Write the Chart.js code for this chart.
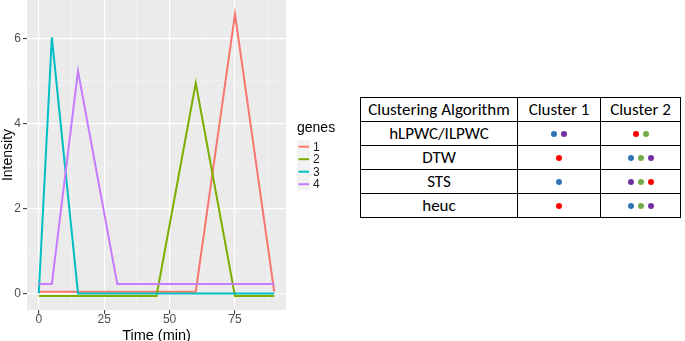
<!DOCTYPE html>
<html><head><meta charset="utf-8">
<script src="https://cdn.jsdelivr.net/npm/chart.js@4"></script>
<style>
html,body{margin:0;padding:0;background:#fff;width:685px;height:341px;overflow:hidden;position:relative;}
#c{position:absolute;left:0;top:0;}
table{position:absolute;left:360px;top:97px;border-collapse:collapse;table-layout:fixed;font-family:Carlito,Lato,"Open Sans",sans-serif;font-size:17px;color:#000;}
td,th{border:1px solid #000;padding:0;text-align:center;height:23px;font-weight:normal;line-height:18px;white-space:nowrap;}
.dot{display:inline-block;width:6px;height:6px;border-radius:50%;margin:0 2px;vertical-align:middle;}
</style></head><body>
<canvas id="c" width="360" height="345"></canvas>
<table id="t"></table>
<script>
// ---- chart data ----
const times = [0, 5, 15, 30, 45, 60, 75, 90];
const gene1 = [0.05, 0.05, 0.05, 0.05, 0.05, 0.05, 6.57, 0.05];
const gene2 = [-0.05, -0.05, -0.05, -0.05, -0.05, 4.95, -0.05, -0.05];
const gene3 = [0.01, 6.02, 0.01, 0.01, 0.01, 0.01, 0.01, 0.01];
const gene4 = [0.23, 0.23, 5.23, 0.23, 0.23, 0.23, 0.23, 0.23];
const geneNames = ['1', '2', '3', '4'];
const geneColors = ['#F8766D', '#7CAE00', '#00BFC4', '#C77CFF'];
const xMajor = [0, 25, 50, 75];
const xMinor = [12.5, 37.5, 62.5, 87.5];
const yMajor = [0, 2, 4, 6];
const yMinor = [1, 3, 5];

// ---- table data ----
const tableHeader = ['Clustering Algorithm', 'Cluster 1', 'Cluster 2'];
const algorithms = ['hLPWC/ILPWC', 'DTW', 'STS', 'heuc'];
const cluster1 = [['blue', 'purple'], ['red'], ['blue'], ['red']];
const cluster2 = [['red', 'green'], ['blue', 'green', 'purple'], ['purple', 'green', 'red'], ['blue', 'green', 'purple']];
const dotColors = {red: '#FF0000', green: '#70AD47', blue: '#2E75B6', purple: '#7030A0'};

// build table
const t = document.getElementById('t');
const colW = [157, 83, 80];
let html = '<colgroup>' + colW.map(w => `<col style="width:${w}px">`).join('') + '</colgroup>';
html += '<tr>' + tableHeader.map(h => `<th>${h}</th>`).join('') + '</tr>';
const dots = arr => arr.map(c => `<span class="dot" style="background:${dotColors[c]}"></span>`).join('');
algorithms.forEach((a, i) => {
  html += `<tr><td>${a}</td><td>${dots(cluster1[i])}</td><td>${dots(cluster2[i])}</td></tr>`;
});
t.innerHTML = html;

// ---- chart ----
const series = [gene1, gene2, gene3, gene4];
const datasets = series.map((s, i) => ({
  label: geneNames[i],
  data: times.map((x, j) => ({x: x, y: s[j]})),
  borderColor: geneColors[i],
  backgroundColor: geneColors[i],
  borderWidth: 2,
  pointRadius: 0,
  tension: 0,
  order: series.length - 1 - i
}));

const panelBg = {
  id: 'panelBg',
  beforeDraw(chart) {
    const {ctx, chartArea: a} = chart;
    ctx.save();
    ctx.fillStyle = '#EBEBEB';
    ctx.fillRect(a.left, a.top, a.right - a.left, a.bottom - a.top);
    ctx.restore();
  }
};

const legendPlugin = {
  id: 'ggLegend',
  afterDraw(chart) {
    const ctx = chart.ctx;
    ctx.save();
    ctx.fillStyle = '#000';
    ctx.font = '14px "Liberation Sans", Arial, sans-serif';
    ctx.textBaseline = 'middle';
    ctx.textAlign = 'left';
    ctx.fillText('genes', 297, 128);
    const y0 = 146.7, dy = 12.5;
    geneNames.forEach((n, i) => {
      const y = y0 + i * dy;
      ctx.fillStyle = '#F2F2F2';
      ctx.fillRect(297, y - dy / 2, 13, dy);
      ctx.strokeStyle = geneColors[i];
      ctx.lineWidth = 2;
      ctx.beginPath();
      ctx.moveTo(298.5, y);
      ctx.lineTo(309, y);
      ctx.stroke();
      ctx.fillStyle = '#1a1a1a';
      ctx.font = '12px "Liberation Sans", Arial, sans-serif';
      ctx.fillText(n, 313, y + 0.5);
    });
    ctx.restore();
  }
};

const isMinor = (list, v) => list.includes(v);

new Chart(document.getElementById('c'), {
  type: 'line',
  data: {datasets},
  plugins: [panelBg, legendPlugin],
  options: {
    responsive: false,
    animation: false,
    events: [],
    layout: {padding: {left: 0, right: 74, top: 0, bottom: 0}},
    plugins: {legend: {display: false}, tooltip: {enabled: false}},
    scales: {
      x: {
        type: 'linear',
        min: -4.5, max: 94.5,
        afterBuildTicks: s => { s.ticks = [...xMajor, ...xMinor].sort((a, b) => a - b).map(v => ({value: v})); },
        afterFit: s => { s.height = 35; s.paddingLeft = 0; s.paddingRight = 0; },
        border: {display: false},
        grid: {
          color: c => isMinor(xMinor, c.tick && c.tick.value) ? '#F4F4F4' : '#FFFFFF',
          lineWidth: c => isMinor(xMinor, c.tick && c.tick.value) ? 0.7 : 1.2,
          tickColor: c => isMinor(xMinor, c.tick && c.tick.value) ? 'rgba(0,0,0,0)' : '#333333',
          tickLength: 4,
          tickWidth: 1
        },
        ticks: {
          autoSkip: false, maxRotation: 0, padding: -2,
          color: '#4D4D4D',
          font: {family: '"Liberation Sans", Arial, sans-serif', size: 12},
          callback: v => xMajor.includes(v) ? String(v) : ''
        },
        title: {
          display: true, text: 'Time (min)', color: '#000',
          font: {family: '"Liberation Sans", Arial, sans-serif', size: 14.5},
          padding: 0
        }
      },
      y: {
        type: 'linear',
        min: -0.38, max: 6.9,
        afterBuildTicks: s => { s.ticks = [...yMajor, ...yMinor].sort((a, b) => a - b).map(v => ({value: v})); },
        afterFit: s => { s.width = 27; s.paddingTop = 0; s.paddingBottom = 0; },
        border: {display: false},
        grid: {
          color: c => isMinor(yMinor, c.tick && c.tick.value) ? '#F4F4F4' : '#FFFFFF',
          lineWidth: c => isMinor(yMinor, c.tick && c.tick.value) ? 0.7 : 1.2,
          tickColor: c => isMinor(yMinor, c.tick && c.tick.value) ? 'rgba(0,0,0,0)' : '#333333',
          tickLength: 4,
          tickWidth: 1
        },
        ticks: {
          autoSkip: false, padding: 2,
          color: '#4D4D4D',
          font: {family: '"Liberation Sans", Arial, sans-serif', size: 12},
          callback: v => yMajor.includes(v) ? String(v) : ''
        },
        title: {
          display: true, text: 'Intensity', color: '#000',
          font: {family: '"Liberation Sans", Arial, sans-serif', size: 14},
          padding: 0
        }
      }
    }
  }
});
</script>
</body></html>
